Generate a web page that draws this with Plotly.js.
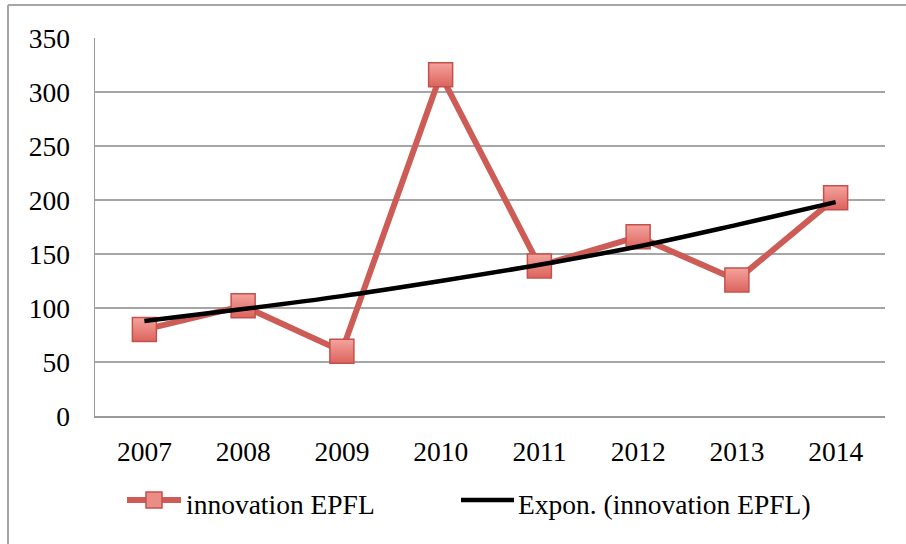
<!DOCTYPE html>
<html>
<head>
<meta charset="utf-8">
<script src="https://cdn.plot.ly/plotly-3.0.1.min.js"></script>
<style>
  html, body { margin: 0; padding: 0; background: #fff; }
  #chart { width: 906px; height: 544px; }
</style>
</head>
<body>
<div id="chart"></div>
<script>
// ---- data ----
const years = ['2007', '2008', '2009', '2010', '2011', '2012', '2013', '2014'];
const innovationEPFL = [80, 102, 60, 316, 139, 166, 126, 202];
const exponTrend = [88, 99, 111, 125, 140, 157, 177, 198];
const yTickVals = [0, 50, 100, 150, 200, 250, 300, 350];
const seriesName = 'innovation EPFL';
const trendName = 'Expon. (innovation EPFL)';

// ---- layout geometry (pixels) ----
const W = 906, H = 544;
const L = 95, R = 885, T = 38, B = 416;
const pw = R - L, ph = B - T;
const px = x => (x - L) / pw;          // pixel -> paper x
const py = y => (B - y) / ph;          // pixel -> paper y

const FONT = 'Liberation Serif, Times New Roman, serif';
const FS = 27.5;
const redLine = '#cd5c57';

const traces = [
  {
    x: years, y: innovationEPFL, name: seriesName, type: 'scatter', mode: 'lines+markers',
    line: { color: redLine, width: 6 },
    marker: { symbol: 'square', size: 24, color: '#f4a39d',
              gradient: { type: 'vertical', color: '#dc635d' },
              line: { color: '#c4504b', width: 1.5 } },
    showlegend: false, hoverinfo: 'x+y'
  },
  {
    x: years, y: exponTrend, name: trendName, type: 'scatter', mode: 'lines',
    line: { color: '#000000', width: 4.5, shape: 'spline' },
    showlegend: false, hoverinfo: 'x+y'
  }
];

const legY = 500;
const layout = {
  width: W, height: H,
  margin: { l: L, r: W - R, t: T, b: H - B, pad: 0 },
  paper_bgcolor: '#ffffff', plot_bgcolor: '#ffffff',
  font: { family: FONT, size: FS, color: '#000' },
  showlegend: false,
  xaxis: {
    type: 'category', range: [-0.5, 7.5], showgrid: false,
    showline: true, linecolor: '#9a9a9a', linewidth: 1.5,
    ticks: '', ticklabelstandoff: 10, tickfont: { family: FONT, size: FS, color: '#000' },
    zeroline: false, fixedrange: true
  },
  yaxis: {
    range: [0, 350], tickvals: yTickVals, ticktext: yTickVals.map(String),
    showgrid: true, gridcolor: '#a6a6a6', gridwidth: 1.5,
    showline: true, linecolor: '#9a9a9a', linewidth: 1.5,
    ticks: '', ticklabelstandoff: 18, tickfont: { family: FONT, size: FS, color: '#000' },
    zeroline: false, fixedrange: true
  },
  shapes: [
    // outer chart border (top + left visible)
    { type: 'line', xref: 'paper', yref: 'paper', x0: px(8), x1: px(W + 5), y0: py(5), y1: py(5),
      line: { color: '#a6a6a6', width: 2 } },
    { type: 'line', xref: 'paper', yref: 'paper', x0: px(8), x1: px(8), y0: py(5), y1: py(H + 5),
      line: { color: '#a6a6a6', width: 2 } },
    // legend symbols
    { type: 'line', xref: 'paper', yref: 'paper', x0: px(127), x1: px(181), y0: py(legY), y1: py(legY),
      line: { color: redLine, width: 6 } },
    { type: 'rect', xref: 'paper', yref: 'paper', x0: px(146), x1: px(162), y0: py(legY + 8), y1: py(legY - 8),
      fillcolor: '#ec8c86', line: { color: '#c4504b', width: 1.5 } },
    { type: 'line', xref: 'paper', yref: 'paper', x0: px(461), x1: px(514), y0: py(legY), y1: py(legY),
      line: { color: '#000000', width: 4.5 } }
  ],
  annotations: [
    { xref: 'paper', yref: 'paper', x: px(184), y: py(legY + 4), xanchor: 'left', yanchor: 'middle',
      text: seriesName, showarrow: false, font: { family: FONT, size: FS, color: '#000' } },
    { xref: 'paper', yref: 'paper', x: px(516), y: py(legY + 4), xanchor: 'left', yanchor: 'middle',
      text: trendName, showarrow: false, font: { family: FONT, size: FS, color: '#000' } }
  ]
};

Plotly.newPlot('chart', traces, layout, { displayModeBar: false, staticPlot: true });
</script>
</body>
</html>
